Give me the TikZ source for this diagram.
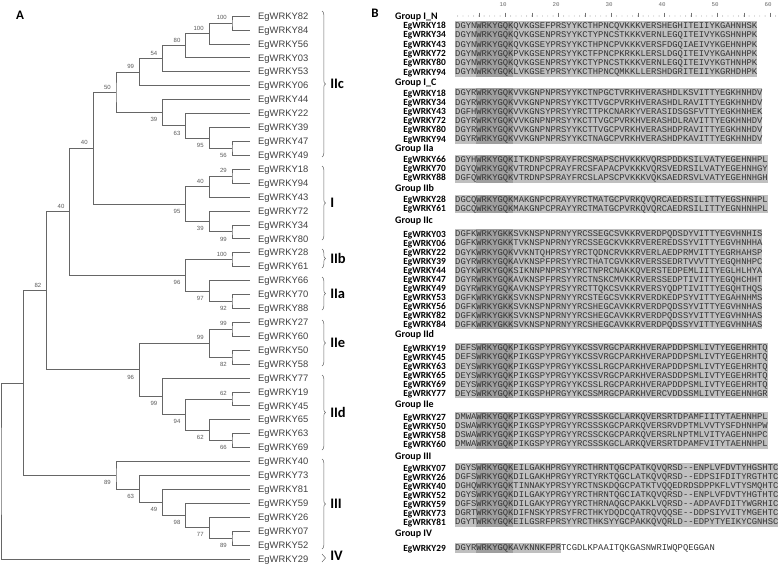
\documentclass[tikz,border=0pt]{standalone}
\usepackage{fontspec}
\setmainfont{Liberation Sans}
\setmonofont{Liberation Mono}
\newfontfamily\calfont{Carlito}
\usetikzlibrary{decorations.pathreplacing}

\begin{document}
\begin{tikzpicture}[x=1pt,y=-1pt,
    br/.style={draw=black!60, line width=0.6pt},
    leaf/.style={anchor=base west, inner sep=0pt, xshift=8pt, yshift=-3.3pt, text=black!75, font=\fontsize{9.4}{10}\selectfont},
    bsa/.style={anchor=south east, inner sep=0pt, xshift=-5pt, yshift=3pt, text=black!65, font=\fontsize{6}{7}\selectfont},
    bsb/.style={anchor=north east, inner sep=0pt, xshift=-5pt, yshift=-5pt, text=black!65, font=\fontsize{6}{7}\selectfont},
    grpbrace/.style={draw=black!60, line width=0.5pt, decorate, decoration={brace, amplitude=3.5pt}},
    grplab/.style={midway, anchor=west, inner sep=0pt, xshift=8pt, font=\calfont\bfseries\fontsize{14.5}{16}\selectfont},
    panel/.style={font=\calfont\bfseries\fontsize{13}{15}\selectfont},
    ghead/.style={anchor=base west, inner sep=0pt, yshift=-3.2pt, font=\calfont\bfseries\fontsize{10}{12}\selectfont},
    gname/.style={anchor=base east, inner sep=0pt, yshift=-3pt, font=\calfont\bfseries\fontsize{9.4}{11}\selectfont},
    seq/.style={anchor=base west, inner sep=0pt, yshift=-2.9pt, text=black!80, font=\ttfamily\fontsize{8.83}{10}\selectfont},
    rnum/.style={inner sep=0pt, text=black!60, font=\ttfamily\fontsize{5.8}{7}\selectfont},
    shade/.style={fill=black!25},
    shadedk/.style={fill=black!38},
]
\useasboundingbox (0,0) rectangle (780,565);

\node[panel] (pA) at (20,15) {A};
\node[panel] (pB) at (375,13) {B};

% leaves of the tree
\foreach \nm [count=\i from 0] in {82,84,56,03,53,06,44,22,39,47,49,18,94,43,72,34,80,28,61,66,70,88,27,60,50,58,77,19,45,65,63,69,40,73,81,59,26,07,52,29}
  {\coordinate (t\nm) at (250,{16+13.92*\i});
   \node[leaf] (L\nm) at (t\nm) {EgWRKY\nm};}

% IIc
\coordinate (n100a) at (232,22.96);
\draw[br] (t82) -| (n100a) |- (t84); \node[bsa] at (n100a) {100};
\coordinate (n100b) at (208.8,33.4);
\draw[br] (n100a) -| (n100b) |- (t56); \node[bsa] at (n100b) {100};
\coordinate (n80) at (185.6,45.58);
\draw[br] (n100b) -| (n80) |- (t03); \node[bsa] at (n80) {80};
\coordinate (n54) at (162.4,58.63);
\draw[br] (n80) -| (n54) |- (t53); \node[bsa] at (n54) {54};
\coordinate (n99a) at (139.2,72.12);
\draw[br] (n54) -| (n99a) |- (t06); \node[bsa] at (n99a) {99};
\coordinate (n56) at (232,148.24);
\draw[br] (t47) -| (n56) |- (t49); \node[bsb] at (n56) {56};
\coordinate (n95a) at (208.8,137.8);
\draw[br] (t39) -| (n95a) |- (n56); \node[bsb] at (n95a) {95};
\coordinate (n63a) at (185.6,125.62);
\draw[br] (t22) -| (n63a) |- (n95a); \node[bsb] at (n63a) {63};
\coordinate (n39a) at (162.4,112.57);
\draw[br] (t44) -| (n39a) |- (n63a); \node[bsb] at (n39a) {39};
\coordinate (n50) at (116,92.34);
\draw[br] (n99a) -| (n50) |- (n39a); \node[bsa] at (n50) {50};
% I
\coordinate (n29) at (232,176.08);
\draw[br] (t18) -| (n29) |- (t94); \node[bsa] at (n29) {29};
\coordinate (n40a) at (208.8,186.52);
\draw[br] (n29) -| (n40a) |- (t43); \node[bsa] at (n40a) {40};
\coordinate (n99b) at (232,231.76);
\draw[br] (t34) -| (n99b) |- (t80); \node[bsb] at (n99b) {99};
\coordinate (n39b) at (208.8,221.32);
\draw[br] (t72) -| (n39b) |- (n99b); \node[bsb] at (n39b) {39};
\coordinate (n95b) at (185.6,203.92);
\draw[br] (n40a) -| (n95b) |- (n39b); \node[bsb] at (n95b) {95};
\coordinate (n40b) at (92.8,148.13);
\draw[br] (n50) -| (n40b) |- (n95b); \node[bsa] at (n40b) {40};
% IIb + IIa
\coordinate (n100c) at (232,259.6);
\draw[br] (t28) -| (n100c) |- (t61); \node[bsa] at (n100c) {100};
\coordinate (n92) at (232,301.36);
\draw[br] (t70) -| (n92) |- (t88); \node[bsb] at (n92) {92};
\coordinate (n97) at (208.8,290.92);
\draw[br] (t66) -| (n97) |- (n92); \node[bsb] at (n97) {97};
\coordinate (n96a) at (185.6,275.26);
\draw[br] (n100c) -| (n96a) |- (n97); \node[bsb] at (n96a) {96};
\coordinate (n40c) at (69.6,211.7);
\draw[br] (n40b) -| (n40c) |- (n96a); \node[bsa] at (n40c) {40};
% IIe + IId
\coordinate (n99c) at (232,329.2);
\draw[br] (t27) -| (n99c) |- (t60); \node[bsa] at (n99c) {99};
\coordinate (n82a) at (232,357.04);
\draw[br] (t50) -| (n82a) |- (t58); \node[bsb] at (n82a) {82};
\coordinate (n99d) at (208.8,343.12);
\draw[br] (n99c) -| (n99d) |- (n82a); \node[bsa] at (n99d) {99};
\coordinate (n62a) at (232,398.8);
\draw[br] (t19) -| (n62a) |- (t45); \node[bsa] at (n62a) {62};
\coordinate (n66) at (232,440.56);
\draw[br] (t63) -| (n66) |- (t69); \node[bsb] at (n66) {66};
\coordinate (n62b) at (208.8,430.12);
\draw[br] (t65) -| (n62b) |- (n66); \node[bsb] at (n62b) {62};
\coordinate (n94) at (185.6,414.46);
\draw[br] (n62a) -| (n94) |- (n62b); \node[bsb] at (n94) {94};
\coordinate (n99e) at (162.4,396.19);
\draw[br] (t77) -| (n99e) |- (n94); \node[bsb] at (n99e) {99};
\coordinate (n96b) at (139.2,369.66);
\draw[br] (n99d) -| (n96b) |- (n99e); \node[bsb] at (n96b) {96};
\coordinate (n82b) at (46.4,290.68);
\draw[br] (n40c) -| (n82b) |- (n96b); \node[bsa] at (n82b) {82};
% III
\coordinate (n89a) at (232,538);
\draw[br] (t07) -| (n89a) |- (t52); \node[bsb] at (n89a) {89};
\coordinate (n77) at (208.8,527.56);
\draw[br] (t26) -| (n77) |- (n89a); \node[bsb] at (n77) {77};
\coordinate (n98) at (185.6,515.38);
\draw[br] (t59) -| (n98) |- (n77); \node[bsb] at (n98) {98};
\coordinate (n49) at (162.4,502.33);
\draw[br] (t81) -| (n49) |- (n98); \node[bsb] at (n49) {49};
\coordinate (n63b) at (139.2,488.85);
\draw[br] (t73) -| (n63b) |- (n49); \node[bsb] at (n63b) {63};
\coordinate (n89b) at (116,475.14);
\draw[br] (t40) -| (n89b) |- (n63b); \node[bsb] at (n89b) {89};
% root
\coordinate (nin) at (23.2,382.91);
\draw[br] (n82b) -| (nin) |- (n89b);
\coordinate (nroot) at (1,470.9);
\draw[br] (nin) -| (nroot) |- (t29);

% group braces
\draw[grpbrace] (322,11) -- (322,157) node[grplab] (gIIc) {IIc};
\draw[grpbrace] (322,166) -- (322,240) node[grplab] (gI) {I};
\draw[grpbrace] (322,249) -- (322,268) node[grplab] (gIIb) {IIb};
\draw[grpbrace] (322,277) -- (322,310) node[grplab] (gIIa) {IIa};
\draw[grpbrace] (322,320) -- (322,366) node[grplab] (gIIe) {IIe};
\draw[grpbrace] (322,375) -- (322,450) node[grplab] (gIId) {IId};
\draw[grpbrace] (322,459) -- (322,549) node[grplab] (gIII) {III};
\draw[grpbrace] (322,554) -- (322,562) node[grplab, yshift=2.5pt] (gIV) {IV};

% ruler
\foreach \k in {10,20,...,60}
  \node[rnum] (r\k) at ({455+5.3*(\k-1)+0.5},5) {\k};
\foreach \k in {1,...,62}
  \fill[black!55] ({455+5.3*(\k-0.5)},16) circle (0.45);
\foreach \k in {5,10,...,60}
  \draw[black!55, line width=0.5pt] ({455+5.3*(\k-0.5)},12.5) -- ({455+5.3*(\k-0.5)},16.5);

% Group I_N
\node[ghead] (hIN) at (395,16) {Group I\_N};
\fill[shade] (455,20.9) rectangle ({455+5.3*57},76.6);
\fill[shadedk] ({455+5.3*4},20.9) rectangle ({455+5.3*11},76.6);
\foreach \nm/\sq [count=\i from 0] in {18/DGYNWRKYGQKQVKGSEFPRSYYKCTHPNCQVKKKVERSHEGHITEIIYKGAHNHSK,
    34/DGYNWRKYGQKQVKGSENPRSYYKCTYPNCSTKKKVERNLEGQITEIVYKGSHNHPK,
    43/DGYNWRKYGQKQVKGSEYPRSYYKCTHPNCPVKKKVERSFDGQIAEIVYKGEHNHPK,
    72/DGYNWRKYGQKPVKGSENPRSYYKCTFPNCPKRKKLERSLDGQITEIVYKGAHNHPK,
    80/DGYNWRKYGQKQVKGSENPRSYYKCTYPNCSTKKKVERNLEGQITEIVYKGTHNHPK,
    94/DGYNWRKYGQKLVKGSEYPRSYYKCTHPNCQMKKLLERSHDGRITEIIYKGRHDHPK}
  {\node[gname] (aIN\nm) at (446,{25.5+9.3*\i}) {EgWRKY\nm};
   \node[seq] (sIN\nm) at (455,{25.5+9.3*\i}) {\sq};}

% Group I_C
\node[ghead] (hIC) at (395,82.5) {Group I\_C};
\fill[shade] (455,88.4) rectangle ({455+5.3*58},143.6);
\fill[shadedk] ({455+5.3*4},88.4) rectangle ({455+5.3*11},143.6);
\foreach \nm/\sq [count=\i from 0] in {18/DGYRWRKYGQKVVKGNPNPRSYYKCTNPGCTVRKHVERASHDLKSVITTYEGKHNHDV,
    34/DGYRWRKYGQKVVKGNPNPRSYYKCTTVGCPVRKHVERASHDLRAVITTYEGKHNHDV,
    43/DGFHWRKYGQKVVKGNSYPRSYYRCTTPKCNARKYVERASIDSGSFVTTYEGKHNHEK,
    72/DGYRWRKYGQKVVKGNPNPRSYYKCTTVGCPVRKHVERASHDLRAVITTYEGKHNHDV,
    80/DGYRWRKYGQKVVKGNPNPRSYYKCTTVGCPVRKHVERASHDPRAVITTYEGKHNHDV,
    94/DGYRWRKYGQKVVKGNPNPRSYYKCTNAGCPVRKHVERASHDPKAVITTYEGKHNHDV}
  {\node[gname] (aIC\nm) at (446,{93+9.2*\i}) {EgWRKY\nm};
   \node[seq] (sIC\nm) at (455,{93+9.2*\i}) {\sq};}

% Group IIa
\node[ghead] (hIIa) at (395,148.5) {Group IIa};
\fill[shade] (455,154.9) rectangle ({455+5.3*59},182.5);
\fill[shadedk] ({455+5.3*4},154.9) rectangle ({455+5.3*11},182.5);
\foreach \nm/\sq [count=\i from 0] in {66/DGYHWRKYGQKITKDNPSPRAYFRCSMAPSCHVKKKVQRSPDDKSILVATYEGEHNHPL,
    70/DGYQWRKYGQKVTRDNPCPRAYFRCSFAPACPVKKKVQRSVEDRSILVATYEGEHNHGY,
    88/DGFQWRKYGQKVTRDNPSPRAYFRCSLAPSCPVKKKVQKSAEDRSVLVATYEGEHNHGH}
  {\node[gname] (aIIa\nm) at (446,{159.5+9.2*\i}) {EgWRKY\nm};
   \node[seq] (sIIa\nm) at (455,{159.5+9.2*\i}) {\sq};}

% Group IIb
\node[ghead] (hIIb) at (395,188.5) {Group IIb};
\fill[shade] (455,194.7) rectangle ({455+5.3*59},213.1);
\fill[shadedk] ({455+5.3*4},194.7) rectangle ({455+5.3*11},213.1);
\foreach \nm/\sq [count=\i from 0] in {28/DGCQWRKYGQKMAKGNPCPRAYYRCTMATGCPVRKQVQRCAEDRSILITTYEGSHNHPL,
    61/DGCQWRKYGQKMAKGNPCPRAYYRCTMATGCPVRKQVQRCAEDRSILITTYEGNHNHPL}
  {\node[gname] (aIIb\nm) at (446,{199.3+9.2*\i}) {EgWRKY\nm};
   \node[seq] (sIIb\nm) at (455,{199.3+9.2*\i}) {\sq};}

% Group IIc
\node[ghead] (hIIc) at (395,220) {Group IIc};
\fill[shade] (455,229.4) rectangle ({455+5.3*58},329.4);
\fill[shadedk] ({455+5.3*4},229.4) rectangle ({455+5.3*11},329.4);
\foreach \nm/\sq [count=\i from 0] in {03/DGFKWRKYGKKSVKNSPNPRNYYRCSSEGCSVKKRVERDPQDSDYVITTYEGVHNHIS,
    06/DGFKWRKYGKKTVKNSPNPRNYYRCSSEGCKVKKRVEREREDSSYVITTYEGVHNHHA,
    22/DGYKWRKYGQKVVKNTQHPRSYYRCTQDNCRVKKRVERLAEDPRMVITTYEGRHAHSP,
    39/DGYRWRKYGQKAVKNSPFPRSYYRCTHATCGVKKRVERSSEDRTVVVTTYEGQHNHPC,
    44/DGYKWRKYGQKSIKNNPNPRSYYRCTNPRCNAKKQVERSTEDPEMLIITYEGLHLHYA,
    47/DGYRWRKYGQKAVKNSPFPRSYYRCTNSKCMVKKRVERSSEDPTIVITTYEGQHCHHT,
    49/DGYRWRKYGQKAVKNSPYPRSYYRCTTQKCSVKKRVERSYQDPTIVITTYEGQHTHQS,
    53/DGFKWRKYGKKSVKNSPNPRNYYRCSTEGCSVKKRVERDKEDPSYVITTYEGAHNHMS,
    56/DGFKWRKYGKKSVKNSPNPRNYYRCSHEGCAVKKRVERDPQDSSYVITTYEGVHNHAS,
    82/DGFKWRKYGKKSVKNSPNPRNYYRCSHEGCAVKKRVERDPQDSSYVITTYEGVHNHAS,
    84/DGFKWRKYGKKSVKNSPNPRNYYRCSHEGCAVKKRVERDPQDSSYVITTYEGVHNHAS}
  {\node[gname] (aIIc\nm) at (446,{234+9.08*\i}) {EgWRKY\nm};
   \node[seq] (sIIc\nm) at (455,{234+9.08*\i}) {\sq};}

% Group IId
\node[ghead] (hIId) at (395,334.5) {Group IId};
\fill[shade] (455,343.4) rectangle ({455+5.3*59},398);
\fill[shadedk] ({455+5.3*4},343.4) rectangle ({455+5.3*11},398);
\foreach \nm/\sq [count=\i from 0] in {19/DEFSWRKYGQKPIKGSPYPRGYYKCSSVRGCPARKHVERAPDDPSMLIVTYEGEHRHTQ,
    45/DEFSWRKYGQKPIKGSPYPRGYYKCSSVRGCPARKHVERAPDDPSMLIVTYEGEHRHTQ,
    63/DEYSWRKYGQKPIKGSPYPRGYYKCSSLRGCPARKHVERAPDDPSMLIVTYEGEHRHTQ,
    65/DEYSWRKYGQKPIKGSPYPRGYYKCSSVRGCPARKHVERASDDPSMLIVTYEGEHRHTQ,
    69/DEYSWRKYGQKPIKGSPYPRGYYKCSSLRGCPARKHVERAPDDPSMLIVTYEGEHRHTQ,
    77/DEYSWRKYGQKPIKGSPHPRGYYKCSSMRGCPARKHVERCVDDSSMLIVTYEGEHNHGR}
  {\node[gname] (aIId\nm) at (446,{348+9.08*\i}) {EgWRKY\nm};
   \node[seq] (sIId\nm) at (455,{348+9.08*\i}) {\sq};}

% Group IIe
\node[ghead] (hIIe) at (395,404) {Group IIe};
\fill[shade] (455,412.4) rectangle ({455+5.3*59},448.6);
\fill[shadedk] ({455+5.3*4},412.4) rectangle ({455+5.3*11},448.6);
\foreach \nm/\sq [count=\i from 0] in {27/DMWAWRKYGQKPIKGSPYPRGYYRCSSSKGCLARKQVERSRTDPAMFIITYTAEHNHPL,
    50/DSWAWRKYGQKPIKGSPYPRGYYRCSSSKGCPARKQVERSRVDPTMLVVTYSFDHNHPW,
    58/DSWAWRKYGQKPIKGSPYPRGYYRCSSCKGCPARKQVERSRLNPTMLVITYAGEHNHPC,
    60/DMWAWRKYGQKPIKGSPYPRGYYRCSSSKGCLARKQVERSRTDPAMFVITYTAEHNHPL}
  {\node[gname] (aIIe\nm) at (446,{417+9*\i}) {EgWRKY\nm};
   \node[seq] (sIIe\nm) at (455,{417+9*\i}) {\sq};}

% Group III
\node[ghead] (hIII) at (395,456) {Group III};
\fill[shade] (455,463.4) rectangle ({455+5.3*61},526.6);
\fill[shadedk] ({455+5.3*4},463.4) rectangle ({455+5.3*11},526.6);
\foreach \nm/\sq [count=\i from 0] in {07/DGYSWRKYGQKEILGAKHPRGYYRCTHRNTQGCPATKQVQRSD-{}-ENPLVFDVTYHGSHTC,
    26/DGFSWRKYGQKDILGAKHPRGYYRCTYRKTQGCLATKQVQRSD-{}-EDPSIFDITYRGTHTC,
    40/DGHQWRKYGQKTINNAKYPRSYYRCTNSKDQGCPATKTVQQEDRDSDPPKFLVTYSMQHTC,
    52/DGYSWRKYGQKDILGAKYPRGYYRCTHRNTQGCIATKQVQRSD-{}-ENPLVFDVTYHGTHTC,
    59/DGFSWRKYGQKDILGAKYPRGYYRCTHRNAQGCPAKKLVQRSD-{}-ADPAVFDITYWGRHIC,
    73/DGRTWRKYGQKDIFNSKYPRSYFRCTHKYDQDCQATRQVQQSE-{}-DDPSIYVITYMGEHTC,
    81/DGYTWRKYGQKEILGSRFPRSYYRCTHKSYYGCPAKKQVQRLD-{}-EDPYTYEIKYCGNHSC}
  {\node[gname] (aIII\nm) at (446,{468+9*\i}) {EgWRKY\nm};
   \node[seq] (sIII\nm) at (455,{468+9*\i}) {\sq};}

% Group IV
\node[ghead] (hIV) at (395,533.5) {Group IV};
\fill[shade] (455,543.4) rectangle ({455+5.3*20},552.6);
\fill[shadedk] ({455+5.3*4},543.4) rectangle ({455+5.3*11},552.6);
\node[gname] (aIV29) at (446,548) {EgWRKY29};
\node[seq] (sIV29) at (455,548) {DGYRWRKYGQKAVKNNKFPRTCGDLKPAAITQKGASNWRIWQPQEGGAN};
\end{tikzpicture}
\end{document}
